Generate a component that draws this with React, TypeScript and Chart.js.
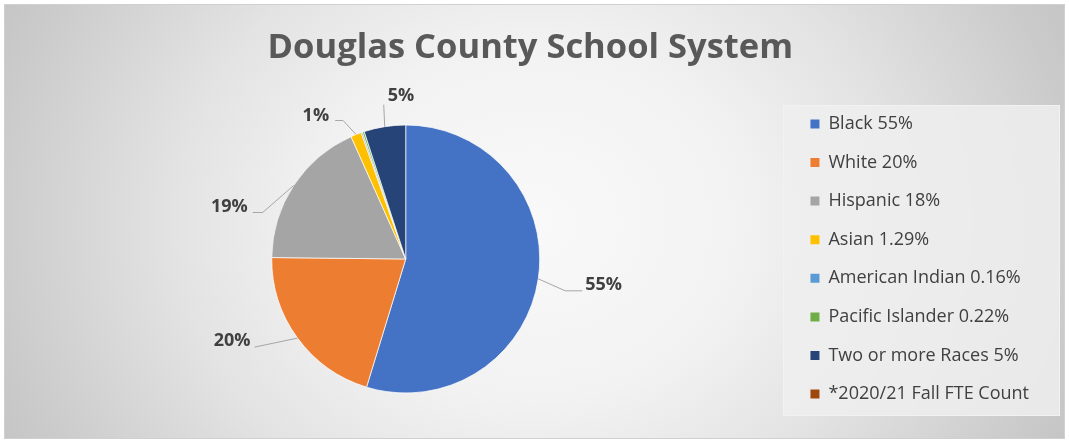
import React, { useEffect, useRef } from 'react';
import { Chart, registerables } from 'chart.js';

Chart.register(...registerables);

// ---- data ----
const chartTitle = 'Douglas County School System';
const categories = [
  'Black 55%',
  'White 20%',
  'Hispanic 18%',
  'Asian 1.29%',
  'American Indian 0.16%',
  'Pacific Islander 0.22%',
  'Two or more Races 5%',
  '*2020/21 Fall FTE Count',
];
const shares = [54.6, 20.4, 18.1, 1.29, 0.16, 0.22, 5.0, 0];
const sliceLabels = ['55%', '20%', '19%', '1%', '', '', '5%', ''];
const colors = ['#4472C4', '#ED7D31', '#A5A5A5', '#FFC000', '#5B9BD5', '#70AD47', '#264478', '#9E480E'];

// ---- style: leader line placement relative to each slice's outer mid point ----
type Leader = { elbow: [number, number]; end: [number, number]; align: CanvasTextAlign; text: [number, number] } | null;
const leaderStyle: Leader[] = [
  { elbow: [27, 12], end: [44, 12], align: 'left', text: [3, -6] },
  { elbow: [-43, 9], end: [-43, 9], align: 'right', text: [-4, -6] },
  { elbow: [-31, 27], end: [-41, 27], align: 'right', text: [-5, -6] },
  { elbow: [-13, -14], end: [-21, -14], align: 'right', text: [-6, -5] },
  null,
  null,
  { elbow: [-1, -22], end: [-1, -22], align: 'left', text: [4, -9] },
  null,
];

const FONT = '"Open Sans", "DejaVu Sans", sans-serif';

const backgroundPlugin = {
  id: 'bgFrame',
  beforeDraw(chart: any) {
    const { ctx, width: w, height: h } = chart;
    ctx.save();
    ctx.fillStyle = '#ffffff';
    ctx.fillRect(0, 0, w, h);
    ctx.beginPath();
    ctx.rect(5, 5, w - 10, h - 10);
    ctx.clip();
    ctx.translate(534, 222);
    ctx.scale(1, 0.85);
    const g = ctx.createRadialGradient(0, 0, 0, 0, 0, 600);
    g.addColorStop(0, '#f9f9f9');
    g.addColorStop(0.35, '#f2f2f2');
    g.addColorStop(0.6, '#e3e3e3');
    g.addColorStop(0.9, '#cbcbcb');
    g.addColorStop(1, '#c4c4c4');
    ctx.fillStyle = g;
    ctx.fillRect(-800, -800, 1600, 1600);
    ctx.restore();

    ctx.save();
    ctx.strokeStyle = '#d0d0d0';
    ctx.lineWidth = 1;
    ctx.strokeRect(4.5, 4.5, w - 9, h - 9);
    // legend panel
    const lg = chart.legend;
    if (lg) {
      const x0 = Math.round(lg.left - 7) + 0.5;
      const x1 = w - 9.5;
      const y0 = Math.round(chart.chartArea.top + 15) + 0.5;
      const y1 = Math.round(chart.chartArea.bottom - 13) + 0.5;
      ctx.fillStyle = 'rgba(238,238,238,0.85)';
      ctx.fillRect(x0, y0, x1 - x0, y1 - y0);
      ctx.strokeStyle = '#f2f2f2';
      ctx.strokeRect(x0, y0, x1 - x0, y1 - y0);
    }
    ctx.restore();
  },
};

const leaderPlugin = {
  id: 'leaders',
  afterDatasetsDraw(chart: any) {
    const meta = chart.getDatasetMeta(0);
    const ctx = chart.ctx;
    ctx.save();
    meta.data.forEach((arc: any, i: number) => {
      const text = sliceLabels[i];
      const st = leaderStyle[i];
      if (!text || !st) return;
      const { x, y, startAngle, endAngle, outerRadius } = arc.getProps(
        ['x', 'y', 'startAngle', 'endAngle', 'outerRadius'],
        true
      );
      const mid = (startAngle + endAngle) / 2;
      const ax = x + Math.cos(mid) * outerRadius;
      const ay = y + Math.sin(mid) * outerRadius;
      ctx.strokeStyle = '#a6a6a6';
      ctx.lineWidth = 1;
      ctx.beginPath();
      ctx.moveTo(ax, ay);
      ctx.lineTo(ax + st.elbow[0], ay + st.elbow[1]);
      ctx.lineTo(ax + st.end[0], ay + st.end[1]);
      ctx.stroke();
      ctx.font = `bold 18px ${FONT}`;
      ctx.fillStyle = '#404040';
      ctx.textAlign = st.align;
      ctx.textBaseline = 'middle';
      ctx.fillText(text, ax + st.end[0] + st.text[0], ay + st.end[1] + st.text[1]);
    });
    ctx.restore();
  },
};

export default function App() {
  const ref = useRef<HTMLCanvasElement>(null);
  useEffect(() => {
    const canvas = ref.current;
    if (!canvas) return;
    const baseGen = (Chart as any).overrides.pie.plugins.legend.labels.generateLabels;
    const chart = new Chart(canvas, {
      type: 'pie',
      data: {
        labels: categories,
        datasets: [
          {
            data: shares,
            backgroundColor: colors,
            borderColor: 'rgba(255,255,255,0.7)',
            borderWidth: 1,
            radius: 134,
          } as any,
        ],
      },
      options: {
        responsive: false,
        animation: false,
        devicePixelRatio: 1,
        layout: { padding: { left: 21.6, right: 30, top: 10, bottom: 15 } },
        plugins: {
          title: {
            display: true,
            text: chartTitle,
            color: '#595959',
            font: { family: FONT, size: 34.5, weight: 'bold' },
            padding: { top: 17.3, bottom: 21.3 },
          },
          legend: {
            position: 'right',
            align: 'center',
            fullSize: false,
            labels: {
              boxWidth: 9,
              boxHeight: 9,
              padding: 20.6,
              color: '#404040',
              font: { family: FONT, size: 18 },
              generateLabels: (c: any) =>
                baseGen(c).map((it: any) => ({ ...it, lineWidth: 0, strokeStyle: 'rgba(0,0,0,0)' })),
            },
          },
          tooltip: { enabled: false },
        },
      } as any,
      plugins: [backgroundPlugin, leaderPlugin],
    });
    return () => chart.destroy();
  }, []);
  return (
    <div style={{ position: 'absolute', left: 0, top: 0, width: 1069, height: 443 }}>
      <canvas ref={ref} width={1069} height={443} style={{ width: 1069, height: 443, display: 'block' }} />
    </div>
  );
}
